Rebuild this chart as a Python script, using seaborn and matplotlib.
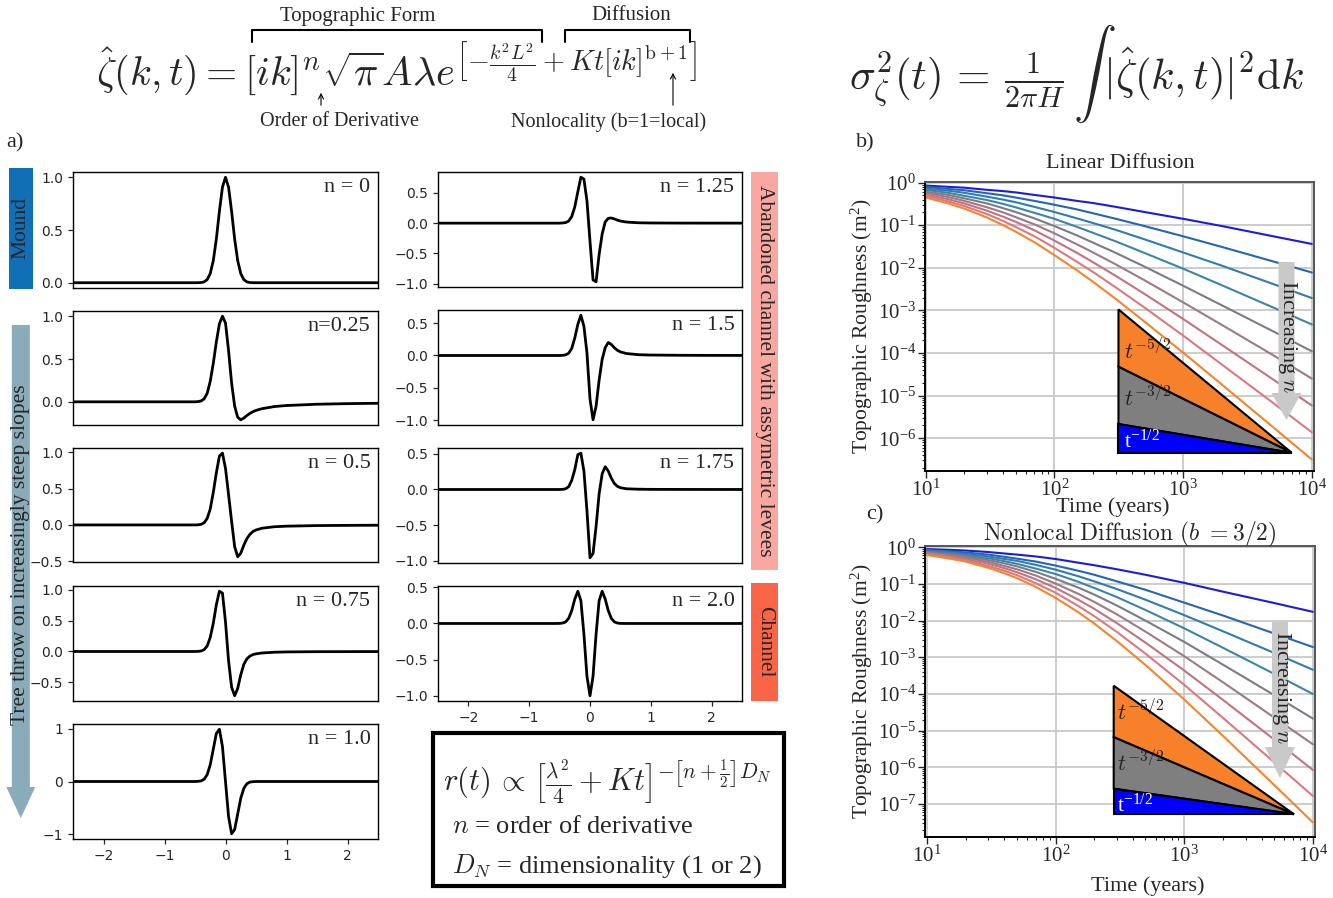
import numpy as np
import pandas as pd
import matplotlib
matplotlib.use("Agg")
import matplotlib.pyplot as plt
import seaborn as sns
from matplotlib.patches import Rectangle, FancyArrow, FancyArrowPatch, Polygon
from matplotlib.lines import Line2D
from matplotlib.ticker import LogLocator, FuncFormatter, NullFormatter

# ---------------------------------------------------------------------------
# Panel a: normalised topographic profiles
# ---------------------------------------------------------------------------
X_PROFILE = [-2.5, -1.0, -0.6, -0.5, -0.45, -0.4, -0.35, -0.3, -0.25, -0.2,
             -0.15, -0.1, -0.05, 0.0, 0.05, 0.1, 0.15, 0.2, 0.25, 0.3,
             0.35, 0.4, 0.45, 0.5, 0.6, 0.8, 1.0, 1.5, 2.0, 2.5]

PROFILE_N000 = [0, 0, 0, 0, 0.0004, 0.002, 0.008, 0.03, 0.087, 0.21,
                0.415, 0.677, 0.907, 1.0, 0.907, 0.677, 0.415, 0.21, 0.087, 0.03,
                0.008, 0.002, 0.0004, 0, 0, 0, 0, 0, 0, 0]
PROFILE_N025 = [0, 0, 0, 0, 0.003, 0.01, 0.035, 0.10, 0.24, 0.45,
                0.70, 0.91, 1.0, 0.92, 0.60, 0.22, -0.05, -0.18, -0.21, -0.19,
                -0.16, -0.135, -0.115, -0.10, -0.08, -0.055, -0.043, -0.028, -0.021, -0.017]
PROFILE_N050 = [0, 0, 0, 0, 0.002, 0.008, 0.03, 0.09, 0.22, 0.45,
                0.72, 0.95, 0.99, 0.78, 0.42, 0.05, -0.30, -0.44, -0.39, -0.28,
                -0.19, -0.13, -0.09, -0.07, -0.045, -0.025, -0.017, -0.009, -0.006, -0.004]
PROFILE_N075 = [0, 0, 0, 0, 0.002, 0.008, 0.03, 0.09, 0.23, 0.46,
                0.76, 0.98, 0.95, 0.48, -0.15, -0.58, -0.72, -0.60, -0.38, -0.21,
                -0.12, -0.075, -0.05, -0.038, -0.024, -0.012, -0.007, -0.003, -0.002, -0.001]
PROFILE_N100 = [0, 0, 0, 0, 0.003, 0.011, 0.043, 0.13, 0.317, 0.612,
                0.907, 0.987, 0.661, 0.0, -0.661, -0.987, -0.907, -0.612, -0.317, -0.13,
                -0.043, -0.011, -0.003, 0, 0, 0, 0, 0, 0, 0]
PROFILE_N125 = [0, 0, 0, 0, 0.003, 0.01, 0.035, 0.11, 0.27, 0.52,
                0.76, 0.73, 0.37, -0.30, -0.94, -0.97, -0.52, -0.18, 0.02, 0.08,
                0.085, 0.07, 0.05, 0.035, 0.018, 0.006, 0.003, 0.001, 0.0005, 0.0003]
PROFILE_N150 = [0, 0, 0, 0, 0.002, 0.01, 0.035, 0.11, 0.27, 0.48,
                0.62, 0.45, 0.04, -0.67, -0.99, -0.78, -0.38, -0.06, 0.12, 0.20,
                0.17, 0.12, 0.08, 0.055, 0.03, 0.012, 0.007, 0.003, 0.0015, 0.001]
PROFILE_N175 = [0, 0, 0, 0, 0.002, 0.01, 0.04, 0.13, 0.28, 0.49,
                0.51, 0.26, -0.30, -0.96, -0.90, -0.52, -0.06, 0.22, 0.32, 0.26,
                0.16, 0.085, 0.045, 0.025, 0.01, 0.004, 0.002, 0.001, 0.0005, 0.0003]
PROFILE_N200 = [0, 0, 0, 0.001, 0.006, 0.022, 0.072, 0.179, 0.338, 0.446,
                0.315, -0.148, -0.730, -1.0, -0.730, -0.148, 0.315, 0.446, 0.338, 0.179,
                0.072, 0.022, 0.006, 0.001, 0, 0, 0, 0, 0, 0]

LEFT_LABELS = ["n = 0", "n=0.25", "n = 0.5", "n = 0.75", "n = 1.0"]
RIGHT_LABELS = ["n = 1.25", "n = 1.5", "n = 1.75", "n = 2.0"]

# ---------------------------------------------------------------------------
# Panels b, c: roughness vs time, log10 values
# ---------------------------------------------------------------------------
N_VALUES = ["0", "0.25", "0.5", "0.75", "1", "1.25", "1.5", "1.75", "2"]
T_YEARS = [10, 15, 20, 30, 40, 50, 70, 100, 150, 200, 300, 500, 1000, 2000, 5000, 10000]

LOG_ROUGH_LINEAR = [
    [-0.07, -0.10, -0.12, -0.17, -0.20, -0.23, -0.29, -0.35, -0.43, -0.48, -0.57, -0.69, -0.85, -1.02, -1.26, -1.44],
    [-0.10, -0.15, -0.18, -0.25, -0.30, -0.35, -0.43, -0.52, -0.63, -0.72, -0.85, -1.02, -1.26, -1.51, -1.85, -2.11],
    [-0.14, -0.19, -0.24, -0.33, -0.40, -0.46, -0.57, -0.69, -0.84, -0.95, -1.11, -1.33, -1.64, -1.95, -2.38, -2.71],
    [-0.17, -0.24, -0.31, -0.41, -0.50, -0.58, -0.71, -0.85, -1.04, -1.18, -1.38, -1.65, -2.02, -2.41, -2.93, -3.33],
    [-0.21, -0.29, -0.37, -0.49, -0.60, -0.69, -0.84, -1.02, -1.24, -1.41, -1.65, -1.97, -2.42, -2.88, -3.49, -3.96],
    [-0.24, -0.34, -0.43, -0.58, -0.70, -0.81, -0.98, -1.19, -1.45, -1.64, -1.92, -2.29, -2.81, -3.34, -4.05, -4.60],
    [-0.28, -0.39, -0.49, -0.66, -0.80, -0.92, -1.12, -1.36, -1.65, -1.87, -2.19, -2.61, -3.20, -3.81, -4.62, -5.23],
    [-0.31, -0.44, -0.55, -0.74, -0.90, -1.04, -1.26, -1.53, -1.86, -2.10, -2.46, -2.93, -3.59, -4.27, -5.17, -5.86],
    [-0.35, -0.49, -0.61, -0.82, -1.00, -1.15, -1.40, -1.70, -2.06, -2.33, -2.73, -3.26, -3.99, -4.74, -5.74, -6.50],
]
LOG_ROUGH_NONLOCAL = [
    [-0.05, -0.07, -0.09, -0.13, -0.17, -0.20, -0.25, -0.32, -0.42, -0.49, -0.60, -0.75, -0.97, -1.21, -1.52, -1.76],
    [-0.08, -0.11, -0.14, -0.20, -0.26, -0.31, -0.39, -0.50, -0.64, -0.75, -0.93, -1.16, -1.51, -1.86, -2.35, -2.72],
    [-0.09, -0.14, -0.18, -0.25, -0.32, -0.37, -0.48, -0.61, -0.79, -0.93, -1.14, -1.43, -1.85, -2.29, -2.88, -3.34],
    [-0.11, -0.16, -0.21, -0.30, -0.38, -0.45, -0.58, -0.73, -0.94, -1.11, -1.36, -1.71, -2.21, -2.74, -3.45, -4.00],
    [-0.13, -0.19, -0.25, -0.35, -0.44, -0.52, -0.67, -0.86, -1.10, -1.29, -1.59, -2.00, -2.58, -3.20, -4.03, -4.67],
    [-0.15, -0.22, -0.28, -0.40, -0.51, -0.60, -0.77, -0.99, -1.27, -1.49, -1.83, -2.30, -2.97, -3.68, -4.64, -5.37],
    [-0.17, -0.25, -0.32, -0.45, -0.57, -0.68, -0.87, -1.11, -1.43, -1.68, -2.07, -2.60, -3.36, -4.16, -5.24, -6.07],
    [-0.19, -0.28, -0.36, -0.51, -0.64, -0.76, -0.98, -1.24, -1.60, -1.88, -2.31, -2.90, -3.75, -4.65, -5.86, -6.78],
    [-0.21, -0.31, -0.39, -0.56, -0.71, -0.84, -1.08, -1.38, -1.77, -2.08, -2.56, -3.21, -4.15, -5.14, -6.48, -7.50],
]
LINE_COLORS = ["#1c1cd6", "#2466b4", "#2f7cae", "#3b86a8", "#7b7c84",
               "#9c7a86", "#c27380", "#dc7882", "#f5842a"]

# slope triangles: start/end time, log10 of the base, exponents
TRI_SLOPES = [2.5, 1.5, 0.5]
TRI_COLORS = ["#f7802b", "#7f7f7f", "#0000ff"]
TRI_LINEAR_T = [315, 6970]
TRI_LINEAR_BASE = -6.34
TRI_NONLOCAL_T = [283, 7140]
TRI_NONLOCAL_BASE = -7.28

# ---------------------------------------------------------------------------
sns.set_style("ticks")
plt.rcParams["font.family"] = ["Liberation Serif", "DejaVu Serif"]
plt.rcParams["mathtext.fontset"] = "cm"

W, H = 1333, 898
fig = plt.figure(figsize=(W / 100, H / 100), dpi=100)


def fig_box(left, top, right, bottom):
    return [left / W, 1 - bottom / H, (right - left) / W, (bottom - top) / H]


def fxy(x, y):
    return x / W, 1 - y / H


def profile_axes(box, ys, label, yticks, show_x):
    ax = fig.add_axes(box)
    sns.lineplot(x=X_PROFILE, y=ys, color="black", linewidth=2.0, ax=ax)
    ax.set_xlim(-2.5, 2.5)
    ax.set_yticks(yticks)
    if show_x:
        ax.set_xticks([-2, -1, 0, 1, 2])
    else:
        ax.set_xticks([])
    ax.set(xlabel="", ylabel="")
    ax.tick_params(labelsize=10, labelfontfamily="DejaVu Sans", length=3.5, width=0.9)
    for sp in ax.spines.values():
        sp.set_color("black")
        sp.set_linewidth(1.0)
    ax.text(0.975, 0.95, label, transform=ax.transAxes, ha="right", va="top", fontsize=16)
    return ax


left_rows = [(172, 288), (311, 425), (448, 562), (586, 701), (724, 839)]
left_data = [PROFILE_N000, PROFILE_N025, PROFILE_N050, PROFILE_N075, PROFILE_N100]
left_ticks = [[0, 0.5, 1.0], [0, 0.5, 1.0], [-0.5, 0, 0.5, 1.0], [-0.5, 0, 0.5, 1.0], [-1, 0, 1]]
for i, (top, bot) in enumerate(left_rows):
    profile_axes(fig_box(73, top, 378, bot), left_data[i], LEFT_LABELS[i],
                 left_ticks[i], i == len(left_rows) - 1)

right_rows = [(172, 287), (310, 425), (448, 563), (586, 701)]
right_data = [PROFILE_N125, PROFILE_N150, PROFILE_N175, PROFILE_N200]
for i, (top, bot) in enumerate(right_rows):
    profile_axes(fig_box(438, top, 742, bot), right_data[i], RIGHT_LABELS[i],
                 [-1.0, -0.5, 0, 0.5], i == len(right_rows) - 1)

# side bars of panel a
fig.add_artist(Rectangle(fxy(9, 289), 24 / W, 121 / H, transform=fig.transFigure,
                         color="#1170b5", lw=0))
fig.text(*fxy(21, 228), "Mound", rotation=90, ha="center", va="center", fontsize=15.5)
x0, y0 = fxy(20.8, 325)
fig.add_artist(FancyArrow(x0, y0, 0, -(818 - 325) / H, width=18 / W, head_width=29 / W,
                          head_length=31 / H, length_includes_head=True,
                          transform=fig.transFigure, color="#8aabb9", lw=0))
fig.text(*fxy(21, 555), "Tree throw on increasingly steep slopes", rotation=90,
         ha="center", va="center", fontsize=15.5)
fig.add_artist(Rectangle(fxy(751, 570), 27 / W, 398 / H, transform=fig.transFigure,
                         color="#f8a7a1", lw=0))
fig.text(*fxy(764.5, 371), "Abandoned channel with assymetric levees", rotation=-90,
         ha="center", va="center", fontsize=15.5)
fig.add_artist(Rectangle(fxy(751, 701), 27 / W, 118 / H, transform=fig.transFigure,
                         color="#fa6548", lw=0))
fig.text(*fxy(764.5, 642), "Channel", rotation=-90, ha="center", va="center", fontsize=15.5)
fig.text(*fxy(15, 143), "a)", ha="center", va="center", fontsize=16)

# ---------------------------------------------------------------------------
# Panels b and c
# ---------------------------------------------------------------------------
decade_fmt = FuncFormatter(lambda v, p: r"$\mathregular{10^{%d}}$" % int(round(np.log10(v))))


def roughness_axes(box, log_rows, xlim, ylim, tri_t, tri_base, label_t, label_logy):
    ax = fig.add_axes(box)
    frames = []
    for n, row in zip(N_VALUES, log_rows):
        frames.append(pd.DataFrame({"t": T_YEARS, "r": 10.0 ** np.asarray(row), "n": n}))
    df = pd.concat(frames, ignore_index=True)
    ax.set_xscale("log")
    ax.set_yscale("log")
    sns.lineplot(data=df, x="t", y="r", hue="n", hue_order=N_VALUES,
                 palette=dict(zip(N_VALUES, LINE_COLORS)), linewidth=1.5,
                 legend=False, estimator=None, ax=ax)
    ax.set_xlim(*xlim)
    ax.set_ylim(*ylim)
    ax.set(xlabel="", ylabel="")
    for axis in (ax.xaxis, ax.yaxis):
        axis.set_major_locator(LogLocator(base=10, numticks=20))
        axis.set_minor_locator(LogLocator(base=10, subs=np.arange(2, 10), numticks=20))
        axis.set_major_formatter(decade_fmt)
        axis.set_minor_formatter(NullFormatter())
    ax.grid(True, which="major", color="#c8c8c8", linewidth=1.3)
    ax.tick_params(which="major", labelsize=15, labelfontfamily="Liberation Serif",
                   length=5, width=1.0, pad=1.5)
    ax.tick_params(which="minor", length=2.5, width=0.8)
    for side, sp in ax.spines.items():
        sp.set_color("black" if side in ("left", "bottom") else "#555555")
        sp.set_linewidth(1.4)

    # slope triangles t^-5/2, t^-3/2, t^-1/2
    t0, t1 = tri_t
    span = np.log10(t1 / t0)
    tops = [10 ** (tri_base + s * span) for s in TRI_SLOPES] + [10 ** tri_base]
    for k, col in enumerate(TRI_COLORS):
        ax.add_patch(Polygon([(t0, tops[k]), (t0, tops[k + 1]), (t1, 10 ** tri_base)],
                             closed=True, facecolor=col, edgecolor="black", lw=1.5, zorder=3))
    tri_text = [r"$t^{-5/2}$", r"$t^{-3/2}$", r"$\mathregular{t^{-1/2}}$"]
    tri_text_col = ["#222222", "#222222", "white"]
    for k in range(3):
        ax.text(label_t, 10 ** label_logy[k], tri_text[k], color=tri_text_col[k],
                fontsize=16, ha="left", va="center", zorder=4)
    return ax


ax_b = roughness_axes(fig_box(925, 181.5, 1314, 471), LOG_ROUGH_LINEAR,
                      (9.9, 1.04e4), (1.7e-7, 1.06), TRI_LINEAR_T, TRI_LINEAR_BASE,
                      345, [-3.97, -5.08, -6.08])
ax_c = roughness_axes(fig_box(925, 545.6, 1315, 837), LOG_ROUGH_NONLOCAL,
                      (9.65, 1.04e4), (1.26e-8, 1.11), TRI_NONLOCAL_T, TRI_NONLOCAL_BASE,
                      300, [-4.52, -5.90, -7.02])

# "Increasing n" arrows
for (xc, ytop, ytip, head_top, txt_y) in [(1286.5, 262, 420, 393, 336), (1280, 622, 778, 747, 687)]:
    ax0, ay0 = fxy(xc, ytop)
    fig.add_artist(FancyArrow(ax0, ay0, 0, -(ytip - ytop) / H, width=16 / W, head_width=30 / W,
                              head_length=(ytip - head_top) / H, length_includes_head=True,
                              transform=fig.transFigure, color="#c9c9c9", lw=0, zorder=5))
    fig.text(*fxy(xc + 1, txt_y), r"Increasing $n$", rotation=-90, ha="center", va="center",
             fontsize=16, zorder=6)

fig.text(*fxy(1120, 164), "Linear Diffusion", ha="center", va="center", fontsize=16)
fig.text(*fxy(1130, 534), r"$\mathrm{Nonlocal\ Diffusion}\ (b\ =3/2)$", ha="center",
         va="center", fontsize=17)
fig.text(*fxy(865, 143), "b)", ha="center", va="center", fontsize=16)
fig.text(*fxy(875, 515), "c)", ha="center", va="center", fontsize=16)
ylab = r"Topographic Roughness (m$\mathregular{^2}$)"
fig.text(*fxy(862, 326), ylab, rotation=90, ha="center", va="center", fontsize=15.5)
fig.text(*fxy(862, 691), ylab, rotation=90, ha="center", va="center", fontsize=15.5)
fig.text(*fxy(1113, 507), "Time (years)", ha="center", va="center", fontsize=16)
fig.text(*fxy(1148, 886), "Time (years)", ha="center", va="center", fontsize=16)

# ---------------------------------------------------------------------------
# Equations and annotations
# ---------------------------------------------------------------------------
EQ_TOP = (r"$\hat{\zeta}(k,t)=[ik]^{n}\sqrt{\pi}A\lambda "
          r"e^{\left[-\frac{k^2L^2}{4}+Kt[ik]^{\mathrm{b+1}}\right]}$")
EQ_RIGHT = r"$\sigma_{\zeta}^{2}(t)\,=\,\frac{1}{2\pi H}\,\int\,|\hat{\zeta}(k,t)|^{2}\mathrm{d}k$"
EQ_BOX = r"$r(t)\,\propto\,\left[\frac{\lambda^2}{4}+Kt\right]^{-\left[n+\frac{1}{2}\right]D_N}$"

fig.text(*fxy(96, 86), EQ_TOP, ha="left", va="baseline", fontsize=29)
fig.text(*fxy(1077, 75), EQ_RIGHT, ha="center", va="center", fontsize=31)

for (xl, xr) in [(252, 542), (565, 690)]:
    pts = [fxy(xl, 42), fxy(xl, 30), fxy(xr, 30), fxy(xr, 42)]
    fig.add_artist(Line2D([p[0] for p in pts], [p[1] for p in pts], color="black", lw=1.5,
                          transform=fig.transFigure))
fig.text(*fxy(358, 16), "Topographic Form", ha="center", va="center", fontsize=15)
fig.text(*fxy(631, 16), "Diffusion", ha="center", va="center", fontsize=15)

for (xa, yb, yt) in [(321, 108, 90), (673, 108, 70)]:
    fig.add_artist(FancyArrowPatch(fxy(xa, yb), fxy(xa, yt), arrowstyle="->", mutation_scale=9,
                                   lw=0.8, color="black", transform=fig.transFigure))
fig.text(*fxy(340, 122), "Order of Derivative", ha="center", va="center", fontsize=14.5)
fig.text(*fxy(609, 122), "Nonlocality (b=1=local)", ha="center", va="center", fontsize=14.5)

fig.add_artist(Rectangle(fxy(433, 886), 351 / W, 153 / H, transform=fig.transFigure,
                         fill=False, edgecolor="black", lw=3))
fig.text(*fxy(443, 782), EQ_BOX, ha="left", va="center", fontsize=22)
fig.text(*fxy(452, 827), r"$n$ = order of derivative", ha="left", va="center", fontsize=19)
fig.text(*fxy(452, 866), r"$D_N$ = dimensionality (1 or 2)", ha="left", va="center", fontsize=19)

fig.savefig("out.png", dpi=100)
